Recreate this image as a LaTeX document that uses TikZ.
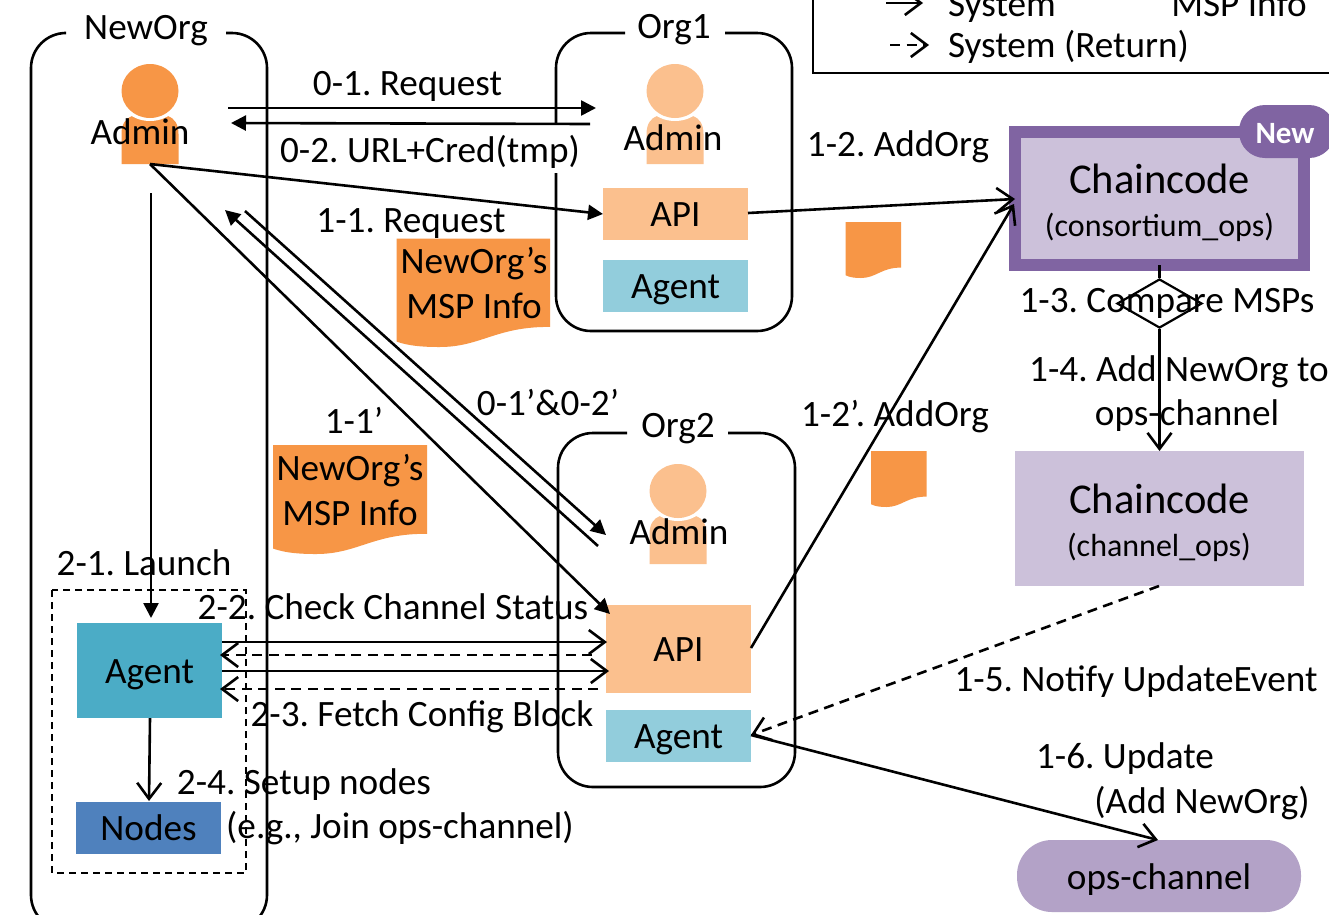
\documentclass[tikz,border=0pt]{standalone}
\usepackage{fontspec}
\setmainfont{Carlito}
\usetikzlibrary{arrows.meta,shapes.geometric}
\definecolor{orA}{HTML}{F79646}
\definecolor{orB}{HTML}{FBC08E}
\definecolor{blA}{HTML}{92CDDC}
\definecolor{blB}{HTML}{4BACC6}
\definecolor{blC}{HTML}{4F81BD}
\definecolor{puA}{HTML}{8064A2}
\definecolor{puB}{HTML}{CCC1DA}
\definecolor{puC}{HTML}{B3A2C7}
\tikzset{
  lab/.style={inner sep=0pt,text height=23.5pt,text depth=0pt,font=\fontsize{37.2}{37.2}\selectfont\frenchspacing,align=center},
  boxn/.style={inner sep=0pt,text height=25pt,text depth=0pt,font=\fontsize{37.2}{37.2}\selectfont,align=center,minimum width=145pt},
  small/.style={lab,font=\fontsize{32}{32}\selectfont},
  big/.style={lab,font=\fontsize{42.5}{42.5}\selectfont},
  conn/.style={line width=2.6pt},
  solidtip/.style={conn,-{Triangle[length=15pt,width=15pt]}},
  opentip/.style={conn,-{Straight Barb[length=16pt,width=24pt,line width=2.6pt]}},
  dashline/.style={dash pattern=on 10pt off 6.5pt},
  frame/.style={line width=2.6pt,rounded corners=35pt},
}
\newcommand{\docshape}[4]{%
  \fill[orA,shift={(#1,#2)},xscale=#3/100,yscale=#4/100]
    (0,0) -- (100,0) -- (100,81.5) .. controls (65,81) and (55,100) .. (28,100)
    .. controls (17,100) and (8,99) .. (0,95) -- cycle;}
\newcommand{\adminicon}[3]{%
  \begin{scope}[shift={(#1,#2)}]
    \fill[#3] (-28.5,100) -- (-28.5,70) .. controls (-28.5,60) and (-24,54) .. (-18,52)
      -- (18,52) .. controls (24,54) and (28.5,60) .. (28.5,70) -- (28.5,100) -- cycle;
    \fill[white] (0,27) ellipse [x radius=33,y radius=30];
    \fill[#3] (0,27) ellipse [x radius=28.5,y radius=27];
  \end{scope}}
\begin{document}
\begin{tikzpicture}[x=1pt,y=-1pt]
\clip (0,0) rectangle (1329,914);
\fill[white] (0,0) rectangle (1329,914);
% frames
\draw[frame] (64,33) -- (31,33) -- (31,930) -- (267,930) -- (267,33) -- (226,33);
\draw[frame] (625,33) -- (556,33) -- (556,331) -- (792,331) -- (792,33) -- (725,33);
\draw[frame] (627,433) -- (558,433) -- (558,787) -- (795,787) -- (795,433) -- (728,433);
\draw[line width=2pt,dash pattern=on 7pt off 5pt] (52,590) rectangle (246,873);
\draw[line width=2.2pt] (813,-10) -- (813,73) -- (1340,73);
% icons
\adminicon{150}{64}{orA}
\adminicon{675}{64}{orB}
\adminicon{678}{464}{orB}
% documents
\docshape{396.5}{238.5}{153.5}{108.5}
\docshape{273}{445}{154}{109}
\docshape{845.5}{222}{55.5}{56}
\docshape{871}{451}{55.5}{56}
% boxes
\node[boxn,fill=orB,minimum height=52pt] (apiA) at (675.5,214) {API};
\node[boxn,fill=blA,minimum height=52pt] (agA) at (675.5,286) {Agent};
\node[boxn,fill=orB,minimum height=88pt] (apiB) at (678.5,649) {API};
\node[boxn,fill=blA,minimum height=52pt] (agB) at (678.5,736) {Agent};
\node[boxn,fill=blB,minimum height=95pt] (agN) at (149.5,670.5) {Agent};
\node[boxn,fill=blC,minimum height=52pt] (nodesN) at (148.5,828) {Nodes};
\node[draw=puA,line width=12pt,fill=puB,minimum width=289pt,minimum height=133pt,inner sep=0pt] (ccA) at (1159.5,198.5) {};
\node[fill=puA,rounded corners=26pt,minimum width=96pt,minimum height=53pt,inner sep=0pt] (newb) at (1287,131.5) {};
\node[fill=puB,minimum width=289pt,minimum height=135pt,inner sep=0pt] (ccB) at (1159.5,518.5) {};
\node[fill=puC,rounded corners=35pt,minimum width=284pt,minimum height=72pt,inner sep=0pt] (ops) at (1159,876) {};
\node[draw,line width=2.2pt,diamond,aspect=1.75,minimum width=85pt,minimum height=49pt,inner sep=0pt] (cmp) at (1159.5,303.5) {};
% texts
\node[lab] (tNew) at (146,28) {NewOrg};
\node[lab] (tOrgA) at (674,27) {Org1};
\node[lab] (tOrgB) at (678,426) {Org2};
\node[lab] (tAdmN) at (140,133) {Admin};
\node[lab] (tAdmA) at (673,139) {Admin};
\node[lab] (tAdmB) at (679,533) {Admin};
\node[lab] (t01) at (407.5,84) {0-1. Request};
\node[lab,fill=white,inner sep=1pt,text height=37pt,text depth=9pt] (t02) at (430,148.5) {0-2. URL+Cred(tmp)};
\node[lab] (t11) at (411,221) {1-1. Request};
\node[lab] (tDocA) at (474,262) {NewOrg’s};
\node[lab] (tDocB) at (474,307) {MSP Info};
\node[lab] (tDocC) at (350,469) {NewOrg’s};
\node[lab] (tDocD) at (350,514) {MSP Info};
\node[lab] (t12) at (898,145) {1-2. AddOrg};
\node[lab] (t12b) at (895,415) {1-2’. AddOrg};
\node[lab] (t13) at (1167,301) {1-3. Compare MSPs};
\node[lab] (t14) at (1179,370) {1-4. Add NewOrg to};
\node[lab] (t14b) at (1187,414) {ops-channel};
\node[lab] (t01b) at (548,404) {0-1’\&0-2’};
\node[lab] (t11b) at (354,422) {1-1’};
\node[lab] (t21) at (144,564) {2-1. Launch};
\node[lab] (t22) at (393,608) {2-2. Check Channel Status};
\node[lab] (t23) at (422,715) {2-3. Fetch Config Block};
\node[lab] (t24) at (304,783) {2-4. Setup nodes};
\node[lab] (t24b) at (400,827) {(e.g., Join ops-channel)};
\node[lab] (t15) at (1136,680) {1-5. Notify UpdateEvent};
\node[lab] (t16) at (1125,757) {1-6. Update};
\node[lab] (t16b) at (1202,802) {(Add NewOrg)};
\node[lab] (tOps) at (1159,878) {ops-channel};
\node[big] (tCcA) at (1159.5,182) {Chaincode};
\node[small] (tCcAb) at (1159.5,225) {(consortium\_ops)};
\node[big] (tCcB) at (1159.5,502) {Chaincode};
\node[small] (tCcBb) at (1159,545) {(channel\_ops)};
\node[lab,text=white,font=\fontsize{31}{31}\selectfont\bfseries,text height=18pt] (tNewB) at (1285,134) {New};
\node[lab] (tLegA) at (1002,5) {System};
\node[lab] (tLegB) at (1239,5) {MSP Info};
\node[lab] (tLegC) at (1068.5,46) {System (Return)};
% connector end points
\coordinate (nA) at (228,108); \coordinate (oA) at (596,108);
\coordinate (oB) at (590,124); \coordinate (nB) at (231,123);
\coordinate (adm) at (150,164); \coordinate (apiAin) at (603,214);
\coordinate (apiBin) at (610,614);
\coordinate (lnA) at (151,193); \coordinate (lnB) at (151,618);
\coordinate (rA) at (598,546); \coordinate (rB) at (225,210);
\coordinate (qA) at (245,211); \coordinate (qB) at (606,535);
\coordinate (apiAo) at (748,213); \coordinate (ccAa) at (1015,199);
\coordinate (apiBo) at (751,648); \coordinate (ccAb) at (1014,204);
\coordinate (a1) at (222,642); \coordinate (b1) at (607,642);
\coordinate (b2) at (592,655); \coordinate (a2) at (220,655);
\coordinate (a3) at (222,671); \coordinate (b3) at (609,671);
\coordinate (b4) at (598,689); \coordinate (a4) at (220,689);
\coordinate (agS) at (150,718); \coordinate (ndN) at (149,801);
\coordinate (ccBs) at (1159,586); \coordinate (agBe) at (751,735);
\coordinate (opsN) at (1158,840);
\coordinate (ccAs) at (1159.5,265);
\coordinate (ccBn) at (1159.5,451);
\coordinate (lgA) at (886,3); \coordinate (lgB) at (923,3);
\coordinate (lgC) at (890,45); \coordinate (lgD) at (929,45);
% connectors
\draw[solidtip] (nA) -- (oA);
\draw[solidtip] (oB) -- (nB);
\draw[solidtip] (adm) -- (apiAin);
\draw[solidtip] (adm) -- (apiBin);
\draw[solidtip] (lnA) -- (lnB);
\draw[solidtip] (rA) -- (rB);
\draw[solidtip] (qA) -- (qB);
\draw[opentip] (apiAo) -- (ccAa);
\draw[opentip] (apiBo) -- (ccAb);
\draw[opentip] (a1) -- (b1);
\draw[opentip,dashline] (b2) -- (a2);
\draw[opentip] (a3) -- (b3);
\draw[opentip,dashline] (b4) -- (a4);
\draw[opentip] (agS) -- (ndN);
\draw[opentip,dashline] (ccBs) -- (agBe);
\draw[opentip] (agBe) -- (opsN);
\draw[conn] (ccAs) -- (cmp.north);
\draw[opentip] (cmp.south) -- (ccBn);
\draw[opentip] (lgA) -- (lgB);
\draw[opentip,dashline] (lgC) -- (lgD);
\end{tikzpicture}
\end{document}
